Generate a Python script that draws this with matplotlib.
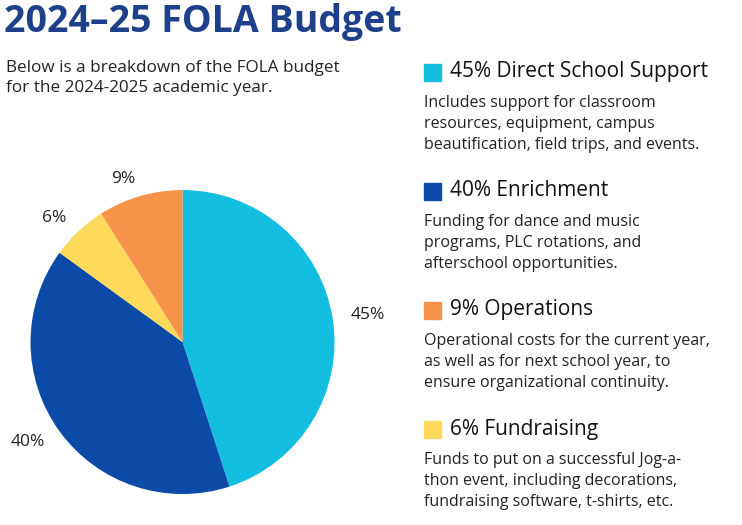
import matplotlib.pyplot as plt
from matplotlib.patches import Rectangle

categories = ["Direct School Support", "Enrichment", "Fundraising", "Operations"]
shares = [45, 40, 6, 9]
colors = ["#14BEE0", "#0B4AA6", "#FFD95C", "#F7924A"]
descriptions = {
    "Direct School Support": "Includes support for classroom\nresources, equipment, campus\nbeautification, field trips, and events.",
    "Enrichment": "Funding for dance and music\nprograms, PLC rotations, and\nafterschool opportunities.",
    "Operations": "Operational costs for the current year,\nas well as for next school year, to\nensure organizational continuity.",
    "Fundraising": "Funds to put on a successful Jog-a-\nthon event, including decorations,\nfundraising software, t-shirts, etc.",
}
legend_order = ["Direct School Support", "Enrichment", "Operations", "Fundraising"]

plt.rcParams["font.family"] = ["Open Sans", "DejaVu Sans"]
W, H = 742, 525
fig = plt.figure(figsize=(W / 100, H / 100), dpi=100)

def px(x, y):
    return x / W, 1 - y / H

fig.text(*px(4, 22), "2024–25 FOLA Budget", fontsize=27, fontweight="bold",
         color="#1E3F8A", va="center")
fig.text(*px(6, 78), "Below is a breakdown of the FOLA budget\nfor the 2024-2025 academic year.",
         fontsize=12.3, color="#222222", va="center", linespacing=1.4)

ax = fig.add_axes([0.041, 0.059, 0.41, 0.579])
ax.pie(shares, colors=colors, startangle=90, counterclock=False,
       labels=[f"{s}%" for s in shares], labeldistance=1.12,
       textprops={"fontsize": 12.5, "color": "#222222"})
ax.set_xlim(-1, 1)
ax.set_ylim(-1, 1)
ax.set_aspect("equal")

y0 = 72
for cat in legend_order:
    i = categories.index(cat)
    fig.patches.append(Rectangle(px(424, y0 + 9), 17 / W, 17 / H, color=colors[i],
                                 transform=fig.transFigure, figure=fig))
    fig.text(*px(450, y0), f"{shares[i]}% {cat}", fontsize=15, color="#111111", va="center")
    fig.text(*px(424, y0 + 52), descriptions[cat], fontsize=11.5, color="#222222",
             va="center", linespacing=1.45)
    y0 += 119

fig.savefig("out.png", dpi=100, facecolor="white")
